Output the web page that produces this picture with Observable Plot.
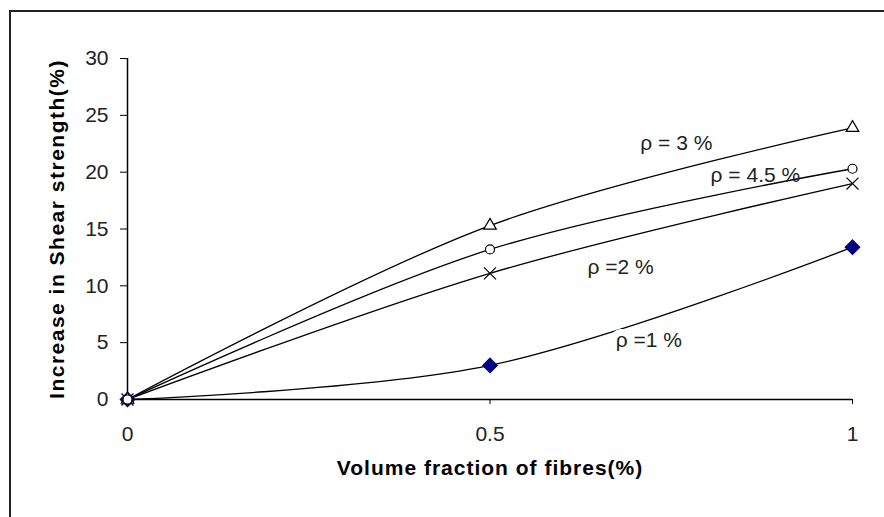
<!DOCTYPE html>
<html>
<head>
<meta charset="utf-8">
<script src="https://cdn.jsdelivr.net/npm/d3@7"></script>
<script src="https://cdn.jsdelivr.net/npm/@observablehq/plot@0.6"></script>
<style>
  html, body { margin: 0; padding: 0; background: #fff; }
  #wrap { position: relative; width: 884px; height: 517px; overflow: hidden; }
  #frame { position: absolute; left: 9px; top: 10px; right: -5px; bottom: -5px;
           border-top: 2px solid #222; border-left: 2px solid #222; pointer-events: none; }
  #chart { position: absolute; left: 0; top: 0; }
</style>
</head>
<body>
<div id="wrap"><div id="chart"></div><div id="frame"></div></div>
<script>
// Data
const volumeFraction = [0, 0.5, 1];
const seriesNames = ["ρ = 3 %", "ρ = 4.5 %", "ρ =2 %", "ρ =1 %"];
const rho3 = [0, 15.3, 23.9];
const rho45 = [0, 13.2, 20.3];
const rho2 = [0, 11.1, 19.0];
const rho1 = [0, 3.0, 13.4];
const seriesSymbols = ["triangle2", "circle", "times", "diamond2"];
const xTicks = [0, 0.5, 1];
const yTicks = [0, 5, 10, 15, 20, 25, 30];
// label anchor positions (data units)
const labelX = [0.757, 0.866, 0.68, 0.719];
const labelY = [22.5, 19.7, 11.6, 5.2];

const allValues = [rho3, rho45, rho2, rho1];
const rows = [];
allValues.forEach((vals, i) => vals.forEach((v, j) =>
  rows.push({series: seriesNames[i], x: volumeFraction[j], y: v, sym: seriesSymbols[i], filled: i === 3})));
const labels = seriesNames.map((s, i) => ({text: s, x: labelX[i], y: labelY[i], halo: i === 3}));

const narrow = "'Liberation Sans Narrow', 'Liberation Sans', Arial, sans-serif";
const bold = "'Liberation Sans', Arial, sans-serif";
const symSize = {triangle2: 6, circle: 4.5, times: 5.5, diamond2: 6.5};

const plot = Plot.plot({
  width: 884,
  height: 517,
  marginLeft: 127,
  marginRight: 32,
  marginTop: 58,
  marginBottom: 118,
  style: {fontFamily: narrow, fontSize: "21px", color: "#000", background: "transparent"},
  x: {domain: [0, 1]},
  y: {domain: [0, 30]},
  r: {type: "identity"},
  marks: [
    Plot.axisY({ticks: yTicks, tickSize: 7, tickPadding: 12, label: null, tickFormat: d => String(d), fontSize: 21, fill: "#222"}),
    Plot.axisX({ticks: xTicks, tickSize: 5, tickPadding: 22, label: null, tickFormat: d => String(d), fontSize: 21, fill: "#222"}),
    Plot.ruleX([0], {y1: 0, y2: 30, stroke: "#000", strokeWidth: 1.5}),
    Plot.ruleY([0], {stroke: "#000", strokeWidth: 1.5}),
    Plot.line(rows, {x: "x", y: "y", z: "series", curve: "catmull-rom", stroke: "#000", strokeWidth: 1.3}),
    Plot.text(labels.filter(d => d.halo), {x: "x", y: "y", text: "text", fill: "#222", stroke: "white", strokeWidth: 14, fontSize: 21}),
    Plot.text(labels.filter(d => !d.halo), {x: "x", y: "y", text: "text", fill: "#222", fontSize: 21}),
    Plot.dot(rows, {x: "x", y: "y", symbol: "sym", r: d => symSize[d.sym],
      stroke: d => d.filled ? "#000080" : "#000",
      fill: d => d.filled ? "#000080" : (d.sym === "times" ? "none" : "white"),
      strokeWidth: 1.2}),
    Plot.text(["Volume fraction of fibres(%)"], {frameAnchor: "bottom", dy: 75, fontWeight: "bold", fontSize: 21, fontFamily: bold, fill: "#000"}),
    Plot.text(["Increase in Shear strength(%)"], {frameAnchor: "left", textAnchor: "middle", dx: -70, rotate: -90, fontWeight: "bold", fontSize: 21, fontFamily: bold, fill: "#000"})
  ]
});
plot.querySelectorAll("text").forEach(t => {
  const s = t.textContent;
  if (s === "Volume fraction of fibres(%)") t.setAttribute("letter-spacing", "1");
  if (s === "Increase in Shear strength(%)") t.setAttribute("letter-spacing", "1.5");
});
document.getElementById("chart").appendChild(plot);
</script>
</body>
</html>
